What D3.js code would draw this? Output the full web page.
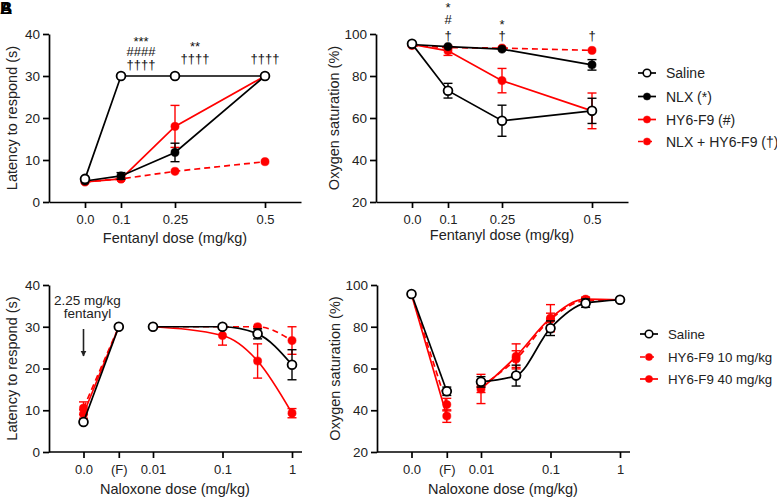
<!DOCTYPE html>
<html>
<head>
<meta charset="utf-8">
<script src="https://cdn.jsdelivr.net/npm/d3@7"></script>
<style>
  body { margin: 0; background: #fff; }
  text { font-family: "Liberation Sans", Arial, sans-serif; }
</style>
</head>
<body>
<script>
// ---------------- DATA ----------------
const fentanylDoses = [0, 0.1, 0.25, 0.5];
const fentanylTicks = [0, 0.1, 0.25, 0.5];
const fentanylTickLabels = ["0.0", "0.1", "0.25", "0.5"];

// Panel A: latency (s)
const latSaline = [5.5, 30, 30, 30];
const latNLX = [5.0, 6.2, 11.8, 30];
const latNLXErr = [0, 0.8, 2.2, 0];
const latHY = [4.8, 5.5, 18, 30];
const latHYErr = [0, 0, 5, 0];
const latCombo = [4.8, 5.5, 7.3, 9.6];

// Panel B: oxygen saturation (%)
const satSaline = [95.3, 73.0, 58.7, 63.4];
const satSalineErr = [0, 3.5, 7.4, 6.0];
const satNLX = [95.0, 94.0, 92.8, 85.3];
const satNLXErr = [0, 0, 0, 2.5];
const satHY = [95.0, 92.0, 77.8, 63.4];
const satHYErr = [0, 2.2, 5.8, 8.5];
const satCombo = [94.5, 93.5, 93.3, 92.2];

// Panels C/D: naloxone reversal
const baseCats = ["0.0", "(F)"];
const nalTicks = [0.01, 0.1, 1];
const nalTickLabels = ["0.01", "0.1", "1"];
const nalDoseC = [0.01, 0.1, 0.32, 1];
const nalDoseD = [0.01, 0.032, 0.1, 0.32, 1];

// Panel C: latency
const cSalineBase = [7.2, 30];
const cSalineBaseErr = [0, 0];
const cSalineNal = [30, 30, 28.3, 20.9];
const cSalineNalErr = [0, 0, 1.2, 3.6];
const cHY10Base = [10.5, 30];
const cHY10BaseErr = [1.5, 0];
const cHY10Nal = [30, 30, 30, 26.7];
const cHY10NalErr = [0, 0, 0, 3.3];
const cHY40Base = [9.1, 30];
const cHY40BaseErr = [1.0, 0];
const cHY40Nal = [30, 27.9, 21.8, 9.3];
const cHY40NalErr = [0, 2.3, 4.1, 1.1];

// Panel D: oxygen saturation
const dSalineBase = [95.7, 49.1];
const dSalineBaseErr = [0, 2.0];
const dSalineNal = [53.6, 56.6, 79.3, 91.3, 92.9];
const dSalineNalErr = [2.5, 5.0, 3.5, 2.0, 0];
const dHY10Base = [95.5, 42.7];
const dHY10BaseErr = [0, 3.0];
const dHY10Nal = [51.5, 64.5, 83.5, 92.5, 92.9];
const dHY10NalErr = [3.0, 4.0, 3.0, 1.5, 0];
const dHY40Base = [95.5, 37.2];
const dHY40BaseErr = [0, 3.0];
const dHY40Nal = [50.2, 65.8, 84.1, 93.2, 92.9];
const dHY40NalErr = [7.0, 6.0, 6.5, 1.0, 0];

const legendTop = ["Saline", "NLX (*)", "HY6-F9 (#)", "NLX + HY6-F9 (\u2020)"];
const legendBottom = ["Saline", "HY6-F9 10 mg/kg", "HY6-F9 40 mg/kg"];

// Significance annotations: [dose, text, row]
const annA = [[0.1, "***", 0], [0.1, "####", 1], [0.1, "\u2020\u2020\u2020\u2020", 2],
              [0.25, "**", 0], [0.25, "\u2020\u2020\u2020\u2020", 1],
              [0.5, "\u2020\u2020\u2020\u2020", 1]];
const annB = [[0.1, "*", 0], [0.1, "#", 1], [0.1, "\u2020", 2],
              [0.25, "*", 0], [0.25, "\u2020", 2],
              [0.5, "\u2020", 2]];

// ---------------- DRAWING ----------------
const RED = "#ff0000", BLACK = "#000000";
const svg = d3.select("body").append("svg").attr("width", 777).attr("height", 498);

// panel label (overlapping letters in the original)
["A", "B"].forEach(l => svg.append("text").attr("x", 0).attr("y", 14)
  .attr("font-size", 17).attr("font-weight", "bold").text(l));

function makeY(domain, top, bottom) {
  return d3.scaleLinear().domain(domain).range([bottom, top]);
}
function styleAxis(g) {
  g.selectAll("path,line").attr("stroke", "#000").attr("stroke-width", 1.7);
  g.selectAll("text").attr("fill", "#222").attr("font-family", '"Liberation Sans", Arial, sans-serif');
}
function drawYAxis(y, left, ticks, label, labelX) {
  const g = svg.append("g").attr("transform", `translate(${left},0)`)
    .call(d3.axisLeft(y).tickValues(ticks).tickSize(6).tickSizeOuter(0).tickPadding(3));
  styleAxis(g);
  g.selectAll("text").attr("font-size", 13.5);
  const [b, t] = y.range();
  svg.append("text").attr("transform", `translate(${labelX},${(b + t) / 2}) rotate(-90)`)
    .attr("text-anchor", "middle").attr("dominant-baseline", "central")
    .attr("font-size", 14.5).attr("fill", "#222").text(label);
}

function series(g, pts, color, dashed, curve) {
  const line = d3.line().x(d => d[0]).y(d => d[1]).curve(curve || d3.curveLinear);
  g.append("path").attr("d", line(pts)).attr("fill", "none").attr("stroke", color)
    .attr("stroke-width", 1.7).attr("stroke-dasharray", dashed ? "6,4" : null);
}
function errs(g, pts, color) {
  pts.forEach(p => {
    if (!(p[3] > 0)) return;
    const [x, , yHi, , yLo] = p;
    g.append("line").attr("x1", x).attr("x2", x).attr("y1", yHi).attr("y2", yLo)
      .attr("stroke", color).attr("stroke-width", 1.4);
    [yHi, yLo].forEach(yy => g.append("line").attr("x1", x - 4.5).attr("x2", x + 4.5)
      .attr("y1", yy).attr("y2", yy).attr("stroke", color).attr("stroke-width", 1.4));
  });
}
function markers(g, pts, color, open) {
  pts.forEach(p => {
    g.append("circle").attr("cx", p[0]).attr("cy", p[1]).attr("r", open ? 4.4 : 4.1)
      .attr("fill", open ? "#fff" : color).attr("stroke", color).attr("stroke-width", open ? 1.8 : 0.5);
  });
}
function pointsOf(xs, vals, errArr, x, y) {
  return xs.map((d, i) => {
    const e = errArr ? errArr[i] : 0;
    return [x(d), y(vals[i]), y(vals[i] + e), e, y(vals[i] - e)];
  });
}

// ---- Fentanyl panels ----
function fentanylPanel(left, top, bottom, yDomain, yTicks, yLabel, yLabelX, titleY, sets, ann, annBase, annShift) {
  const x = d3.scaleLinear().domain([-0.1, 0.6]).range([left, left + 252]);
  const y = makeY(yDomain, top, bottom);
  const gx = svg.append("g").attr("transform", `translate(0,${bottom})`)
    .call(d3.axisBottom(x).tickValues(fentanylTicks).tickSize(6).tickSizeOuter(0).tickPadding(7)
      .tickFormat((d, i) => fentanylTickLabels[i]));
  styleAxis(gx);
  gx.selectAll("text").attr("font-size", 13);
  drawYAxis(y, left, yTicks, yLabel, yLabelX);
  svg.append("text").attr("x", x(0.25)).attr("y", titleY).attr("text-anchor", "middle")
    .attr("dominant-baseline", "central").attr("font-size", 14.5).attr("fill", "#222")
    .text("Fentanyl dose (mg/kg)");
  const g = svg.append("g");
  sets.forEach(s => {
    const pts = pointsOf(fentanylDoses, s.vals, s.err, x, y);
    series(g, pts, s.color, s.dashed);
    errs(g, pts, s.color);
    markers(g, pts, s.color, s.open);
  });
  ann.forEach(a => {
    svg.append("text").attr("x", x(a[0]) + (annShift[a[0]] || 0)).attr("y", annBase[a[0]][a[2]])
      .attr("text-anchor", "middle").attr("font-size", 13).attr("fill", "#111")
      .attr("font-family", '"Liberation Sans", Arial, sans-serif').text(a[1]);
  });
  return x;
}

fentanylPanel(49, 34, 202, [0, 40], [0, 10, 20, 30, 40], "Latency to respond (s)", 12, 238, [
  { vals: latCombo, err: null, color: RED, dashed: true },
  { vals: latHY, err: latHYErr, color: RED },
  { vals: latNLX, err: latNLXErr, color: BLACK },
  { vals: latSaline, err: null, color: BLACK, open: true }
], annA, { 0.1: [46, 56, 69], 0.25: [51, 63], 0.5: [0, 63] }, { 0.1: 20, 0.25: 20, 0.5: 0 });

fentanylPanel(376, 34, 202, [20, 100], [20, 40, 60, 80, 100], "Oxygen saturation (%)", 334, 235, [
  { vals: satCombo, err: null, color: RED, dashed: true },
  { vals: satHY, err: satHYErr, color: RED },
  { vals: satNLX, err: satNLXErr, color: BLACK },
  { vals: satSaline, err: satSalineErr, color: BLACK, open: true }
], annB, { 0.1: [12, 24, 40], 0.25: [29, 0, 40], 0.5: [0, 0, 40] }, {});

// ---- Naloxone panels ----
function naloxonePanel(left, top, bottom, yDomain, yTicks, yLabel, yLabelX, nalDoses, sets) {
  const xLog = d3.scaleLog().domain([0.01, 1]).range([left + 104, left + 243]);
  const xCat = d3.scalePoint().domain(baseCats).range([xLog(0.001), xLog(0.00322)]);
  const y = makeY(yDomain, top, bottom);
  svg.append("line").attr("x1", left).attr("x2", left + 253).attr("y1", bottom).attr("y2", bottom)
    .attr("stroke", "#000").attr("stroke-width", 1.7);
  const g1 = svg.append("g").attr("transform", `translate(0,${bottom})`)
    .call(d3.axisBottom(xLog).tickValues(nalTicks).tickSize(6).tickPadding(7)
      .tickFormat((d, i) => nalTickLabels[i]));
  const g2 = svg.append("g").attr("transform", `translate(0,${bottom})`)
    .call(d3.axisBottom(xCat).tickSize(6).tickPadding(7));
  [g1, g2].forEach(g => { styleAxis(g); g.select(".domain").remove(); g.selectAll("text").attr("font-size", 13); });
  drawYAxis(y, left, yTicks, yLabel, yLabelX);
  svg.append("text").attr("x", left + 126).attr("y", 489).attr("text-anchor", "middle")
    .attr("dominant-baseline", "central").attr("font-size", 14.5).attr("fill", "#222")
    .text("Naloxone dose (mg/kg)");
  const g = svg.append("g");
  sets.forEach(s => {
    const bp = pointsOf(baseCats, s.base, s.baseErr, xCat, y);
    const np = pointsOf(nalDoses, s.nal, s.nalErr, xLog, y);
    series(g, bp, s.color, s.dashed);
    series(g, np, s.color, s.dashed, d3.curveMonotoneX);
    errs(g, bp, s.color); errs(g, np, s.color);
    markers(g, bp, s.color, s.open); markers(g, np, s.color, s.open);
  });
  return { xCat, y };
}

const pc = naloxonePanel(49, 285, 452, [0, 40], [0, 10, 20, 30, 40], "Latency to respond (s)", 12, nalDoseC, [
  { base: cHY10Base, baseErr: cHY10BaseErr, nal: cHY10Nal, nalErr: cHY10NalErr, color: RED, dashed: true },
  { base: cHY40Base, baseErr: cHY40BaseErr, nal: cHY40Nal, nalErr: cHY40NalErr, color: RED },
  { base: cSalineBase, baseErr: cSalineBaseErr, nal: cSalineNal, nalErr: cSalineNalErr, color: BLACK, open: true }
]);
naloxonePanel(377, 285, 452, [20, 100], [20, 40, 60, 80, 100], "Oxygen saturation (%)", 335, nalDoseD, [
  { base: dHY10Base, baseErr: dHY10BaseErr, nal: dHY10Nal, nalErr: dHY10NalErr, color: RED, dashed: true },
  { base: dHY40Base, baseErr: dHY40BaseErr, nal: dHY40Nal, nalErr: dHY40NalErr, color: RED },
  { base: dSalineBase, baseErr: dSalineBaseErr, nal: dSalineNal, nalErr: dSalineNalErr, color: BLACK, open: true }
]);

// fentanyl annotation in panel C
const ax = pc.xCat("0.0");
svg.append("text").attr("x", ax + 4).attr("y", 305).attr("text-anchor", "middle")
  .attr("font-size", 13.5).attr("fill", "#222").text("2.25 mg/kg");
svg.append("text").attr("x", ax + 4).attr("y", 318).attr("text-anchor", "middle")
  .attr("font-size", 13.5).attr("fill", "#222").text("fentanyl");
svg.append("defs").append("marker").attr("id", "ah").attr("viewBox", "0 0 10 10")
  .attr("refX", 9).attr("refY", 5).attr("markerWidth", 6).attr("markerHeight", 7)
  .attr("markerUnits", "userSpaceOnUse").attr("orient", "auto")
  .append("path").attr("d", "M0,0 L10,5 L0,10 z").attr("fill", "#222");
svg.append("line").attr("x1", ax).attr("x2", ax).attr("y1", 329).attr("y2", 356)
  .attr("stroke", "#222").attr("stroke-width", 1.6).attr("marker-end", "url(#ah)");

// ---- Legends ----
function legend(x0, ys, labels, styles, fs) {
  labels.forEach((lab, i) => {
    const st = styles[i], yy = ys[i];
    svg.append("line").attr("x1", x0).attr("x2", x0 + 18).attr("y1", yy).attr("y2", yy)
      .attr("stroke", st.color).attr("stroke-width", 1.7)
      .attr("stroke-dasharray", st.dashed ? "5,4" : null);
    svg.append("circle").attr("cx", x0 + 9).attr("cy", yy).attr("r", st.open ? 3.8 : 3.6)
      .attr("fill", st.open ? "#fff" : st.color).attr("stroke", st.color).attr("stroke-width", st.open ? 1.6 : 0.5);
    svg.append("text").attr("x", x0 + 28).attr("y", yy).attr("dominant-baseline", "central")
      .attr("font-size", fs).attr("fill", "#222").text(lab);
  });
}
legend(638, [73, 96.5, 119.5, 141.5], legendTop, [
  { color: BLACK, open: true }, { color: BLACK }, { color: RED }, { color: RED, dashed: true }], 14);
legend(640, [334, 357, 379], legendBottom, [
  { color: BLACK, open: true }, { color: RED, dashed: true }, { color: RED }], 13.3);
</script>
</body>
</html>
